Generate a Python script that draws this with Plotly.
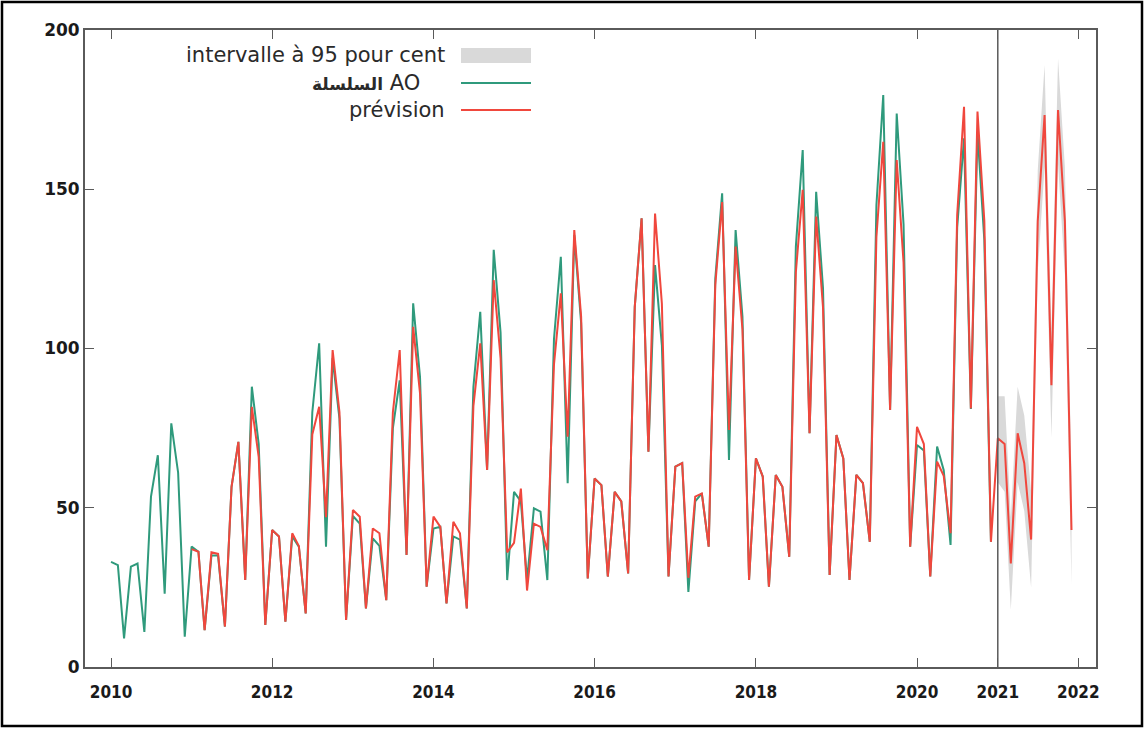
import pandas as pd
import plotly.graph_objects as go

# Monthly AO series, 2010-01 .. 2020-12
ao_months = pd.date_range("2010-01-01", periods=132, freq="MS")
ao_values = [
    33, 32, 9, 31.5, 32.5, 11, 53.5, 66.5, 23, 76.5, 61, 9.5,            # 2010
    37.8, 36.2, 11.6, 35, 35, 12.7, 56.6, 70.7, 27.3, 88, 70, 13.2,      # 2011
    43, 41, 14.2, 41, 37.8, 16.8, 80, 101.6, 37.8, 97, 78, 14.8,         # 2012
    47.4, 45, 18.4, 40.4, 38, 21, 75, 90, 35.2, 114.2, 91, 25.2,         # 2013
    43.5, 44, 20, 41, 40, 18.4, 88, 111.5, 61.9, 131, 105, 27.3,         # 2014
    55, 52, 27.3, 49.8, 48.8, 27.3, 103, 128.8, 57.7, 135.6, 108, 27.8,  # 2015
    59.2, 57.1, 28.4, 55, 52, 29.4, 113, 140.9, 67.6, 126.2, 101, 28.4,  # 2016
    62.9, 64, 23.6, 52, 54.5, 37.8, 122, 148.7, 65, 137.2, 110, 27.3,    # 2017
    65.5, 59.8, 25.2, 60.3, 56.6, 34.6, 132, 162.3, 73.4, 149.2, 119, 28.9,  # 2018
    72.8, 65.5, 27.3, 60.3, 57.7, 39.3, 145, 179.6, 80.7, 173.8, 139, 37.8,  # 2019
    69.7, 68, 28.4, 69.2, 61.8, 38.3, 138, 166, 81, 168, 134, 39.3,      # 2020
]

# Forecast, 2011-01 .. 2021-12
fc_months = pd.date_range("2011-01-01", periods=132, freq="MS")
fc_values = [
    37, 36.2, 11.6, 36, 35.5, 12.7, 56.6, 70.7, 27.3, 81.7, 66, 13.2,    # 2011
    43, 41, 14.2, 42, 38, 16.8, 73, 81.7, 47, 99.5, 80, 14.8,            # 2012
    49.3, 47.2, 18.4, 43.5, 42, 21, 80, 99.5, 35.2, 106.8, 86, 25.2,     # 2013
    47.2, 44, 20, 45.6, 42, 18.4, 82, 101.6, 61.9, 121.5, 97, 36,        # 2014
    39, 56, 24, 45, 44, 36.7, 95, 117.3, 72.3, 137.2, 110, 27.8,         # 2015
    59.2, 57.1, 28.4, 55, 52, 29.4, 113, 140.9, 67.6, 142.4, 114, 28.4,  # 2016
    62.9, 64, 28, 53.5, 54.5, 37.8, 120, 146, 74.4, 132, 106, 27.3,      # 2017
    65.5, 59.8, 25.2, 60.3, 56.6, 34.6, 124, 149.8, 73.4, 141.4, 113, 28.9,  # 2018
    72.8, 65.5, 27.3, 60.3, 57.7, 39.3, 135, 164.9, 80.7, 159.2, 127, 37.8,  # 2019
    75.4, 70, 28.4, 64.5, 60, 42, 142, 175.9, 81.2, 174.4, 140, 39.3,    # 2020
    71.8, 70, 32.5, 73.4, 64, 40, 140, 173.3, 88.5, 174.9, 140, 43,      # 2021
]

# 95 per cent interval for the out-of-sample months
band_months = pd.date_range("2021-01-01", periods=12, freq="MS")
band_low = [58, 55, 18, 58, 49, 25, 124, 157, 72, 158, 123, 26]
band_high = [85, 85, 47, 88, 79, 55, 156, 189, 105, 191, 157, 60]

year_ticks = ["2010-01-01", "2012-01-01", "2014-01-01", "2016-01-01",
              "2018-01-01", "2020-01-01", "2021-01-01", "2022-01-01"]
year_labels = ["2010", "2012", "2014", "2016", "2018", "2020", "2021", "2022"]
value_ticks = [0, 50, 100, 150, 200]

legend_labels = ["intervalle à 95 pour cent", "السلسلة AO", "prévision"]
# the Arabic word is set a little smaller and heavier in the key
legend_markup = ["intervalle à 95 pour cent",
                 "<span style='font-size:17px'><b>السلسلة</b></span> AO",
                 "prévision"]

GREEN = "#2f9a7c"
RED = "#f0473d"
BAND = "#d9d9d9"
FRAME = "#5a5a5a"

fig = go.Figure()
fig.add_trace(go.Scatter(x=band_months, y=band_low, mode="lines",
                         line=dict(width=0), hoverinfo="skip", showlegend=False))
fig.add_trace(go.Scatter(x=band_months, y=band_high, mode="lines",
                         line=dict(width=0), fill="tonexty", fillcolor=BAND,
                         name=legend_labels[0], showlegend=False))
fig.add_trace(go.Scatter(x=ao_months, y=ao_values, mode="lines",
                         line=dict(color=GREEN, width=2),
                         name=legend_labels[1], showlegend=False))
fig.add_trace(go.Scatter(x=fc_months, y=fc_values, mode="lines",
                         line=dict(color=RED, width=2),
                         name=legend_labels[2], showlegend=False))

# plot-area geometry (pixels) used to place the hand-built key
W, H = 1145, 729
L, R, T, B = 85, 49, 30, 62
pw, ph = W - L - R, H - T - B


def px(x):
    return (x - L) / pw


def py(y):
    return (H - B - y) / ph


shapes = [
    # forecast start marker
    dict(type="line", xref="x", yref="paper", x0="2021-01-01", x1="2021-01-01",
         y0=0, y1=1, line=dict(color=FRAME, width=1.5)),
    # key samples
    dict(type="rect", xref="paper", yref="paper", x0=px(461), x1=px(531),
         y0=py(63), y1=py(48), fillcolor=BAND, line=dict(width=0)),
    dict(type="line", xref="paper", yref="paper", x0=px(461), x1=px(531),
         y0=py(83), y1=py(83), line=dict(color=GREEN, width=2)),
    dict(type="line", xref="paper", yref="paper", x0=px(461), x1=px(531),
         y0=py(110), y1=py(110), line=dict(color=RED, width=2)),
    # outer picture border
    dict(type="rect", xref="paper", yref="paper", x0=px(2), x1=px(1142),
         y0=py(726), y1=py(2), line=dict(color="black", width=2.5)),
]

annotations = []
for label, xx, yy in zip(legend_markup, [447, 422, 447], [55, 83, 110]):
    annotations.append(dict(xref="paper", yref="paper", x=px(xx), y=py(yy),
                            text=label, showarrow=False, xanchor="right",
                            yanchor="middle",
                            font=dict(family="DejaVu Sans", size=21, color="#2a2a2a")))

fig.update_layout(
    width=W, height=H,
    margin=dict(l=L, r=R, t=T, b=B),
    paper_bgcolor="white", plot_bgcolor="white",
    shapes=shapes, annotations=annotations,
    xaxis=dict(type="date", range=["2009-09-05", "2022-03-22"],
               tickmode="array", tickvals=year_ticks, ticktext=year_labels,
               ticks="inside", ticklen=9, tickwidth=1.2, tickcolor=FRAME,
               showline=True, linecolor=FRAME, linewidth=1.8, mirror="ticks",
               showgrid=False, zeroline=False, ticklabelstandoff=9,
               tickfont=dict(family="DejaVu Sans Condensed, DejaVu Sans", size=17,
                             color="#1a1a1a", weight="bold")),
    yaxis=dict(range=[0, 200], tickmode="array", tickvals=value_ticks,
               ticks="inside", ticklen=9, tickwidth=1.2, tickcolor=FRAME,
               showline=True, linecolor=FRAME, linewidth=1.8, mirror="ticks",
               showgrid=False, zeroline=False,
               tickfont=dict(family="DejaVu Sans", size=17, color="#1a1a1a",
                             weight="bold")),
)

fig.write_html("out.html")
